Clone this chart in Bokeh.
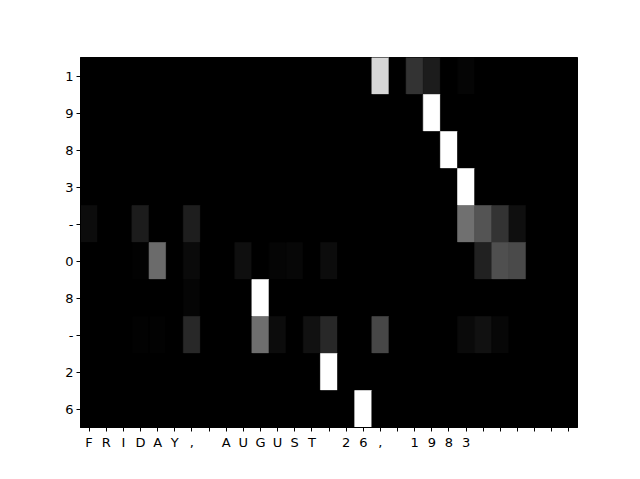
from bokeh.plotting import figure
from bokeh.models import Range1d, FixedTicker, ColumnDataSource, LinearColorMapper
from bokeh.transform import transform
from bokeh.embed import file_html
from bokeh.resources import INLINE

# Column (input) characters, padded
x_labels = ["F", "R", "I", "D", "A", "Y", ",", " ", "A", "U", "G", "U", "S", "T", " ",
            "2", "6", ",", " ", "1", "9", "8", "3", "", "", "", "", "", ""]
# Row (output) characters, top to bottom
y_labels = ["1", "9", "8", "3", "-", "0", "8", "-", "2", "6"]

# Attention weights per output row (29 input columns each)
row_1a = [0, 0, 0, 0, 0, 0, 0, 0, 0, 0, 0, 0, 0, 0, 0, 0, 0, 0.84, 0, 0.20, 0.11, 0, 0.02, 0, 0, 0, 0, 0, 0]
row_9 = [0, 0, 0, 0, 0, 0, 0, 0, 0, 0, 0, 0, 0, 0, 0, 0, 0, 0, 0, 0, 1.0, 0, 0, 0, 0, 0, 0, 0, 0]
row_8a = [0, 0, 0, 0, 0, 0, 0, 0, 0, 0, 0, 0, 0, 0, 0, 0, 0, 0, 0, 0, 0, 1.0, 0, 0, 0, 0, 0, 0, 0]
row_3 = [0, 0, 0, 0, 0, 0, 0, 0, 0, 0, 0, 0, 0, 0, 0, 0, 0, 0, 0, 0, 0, 0, 1.0, 0, 0, 0, 0, 0, 0]
row_dash_a = [0.05, 0, 0, 0.11, 0, 0, 0.12, 0, 0, 0, 0, 0, 0, 0, 0, 0, 0, 0, 0, 0, 0, 0, 0.44, 0.33, 0.20, 0.06, 0, 0, 0]
row_0 = [0, 0, 0, 0.01, 0.42, 0, 0.04, 0, 0, 0.06, 0, 0.02, 0.03, 0, 0.05, 0, 0, 0, 0, 0, 0, 0, 0, 0.13, 0.31, 0.29, 0, 0, 0]
row_8b = [0, 0, 0, 0, 0, 0, 0.02, 0, 0, 0, 1.0, 0, 0, 0, 0, 0, 0, 0, 0, 0, 0, 0, 0, 0, 0, 0, 0, 0, 0]
row_dash_b = [0, 0, 0, 0.01, 0.01, 0, 0.16, 0, 0, 0, 0.43, 0.05, 0, 0.07, 0.16, 0, 0, 0.28, 0, 0, 0, 0, 0.04, 0.07, 0.03, 0, 0, 0, 0]
row_2 = [0, 0, 0, 0, 0, 0, 0, 0, 0, 0, 0, 0, 0, 0, 1.0, 0, 0, 0, 0, 0, 0, 0, 0, 0, 0, 0, 0, 0, 0]
row_6 = [0, 0, 0, 0, 0, 0, 0, 0, 0, 0, 0, 0, 0, 0, 0, 0, 1.0, 0, 0, 0, 0, 0, 0, 0, 0, 0, 0, 0, 0]

rows = [row_1a, row_9, row_8a, row_3, row_dash_a, row_0, row_8b, row_dash_b, row_2, row_6]

xs, ys, vs = [], [], []
for r, vals in enumerate(rows):
    for c, v in enumerate(vals):
        xs.append(c + 0.5)
        ys.append(r + 0.5)
        vs.append(v)
src = ColumnDataSource(dict(x=xs, y=ys, v=vs))

gray = ["#%02x%02x%02x" % (i, i, i) for i in range(256)]
mapper = LinearColorMapper(palette=gray, low=0, high=1)

ncols = len(x_labels)
nrows = len(y_labels)

p = figure(width=624, height=463, output_backend="svg", toolbar_location=None,
           x_range=Range1d(0, ncols), y_range=Range1d(nrows, 0),
           min_border_left=80, min_border_right=47, min_border_top=57, min_border_bottom=36)
p.background_fill_color = "black"
p.border_fill_color = "white"
p.outline_line_color = "black"
p.grid.visible = False

p.rect(x="x", y="y", width=1, height=1, source=src,
       fill_color=transform("v", mapper), line_color=transform("v", mapper), line_width=0.6)

p.xaxis.ticker = FixedTicker(ticks=[i + 0.5 for i in range(ncols)])
p.xaxis.major_label_overrides = {i + 0.5: lab for i, lab in enumerate(x_labels)}
p.yaxis.ticker = FixedTicker(ticks=[i + 0.5 for i in range(nrows)])
p.yaxis.major_label_overrides = {i + 0.5: lab for i, lab in enumerate(y_labels)}

for ax in (p.xaxis[0], p.yaxis[0]):
    ax.axis_line_color = "black"
    ax.major_tick_line_color = "black"
    ax.major_tick_out = 4
    ax.major_tick_in = 0
    ax.minor_tick_line_color = None
    ax.major_label_text_font = "DejaVu Sans"
    ax.major_label_text_font_size = "13px"
    ax.major_label_text_color = "black"
    ax.major_label_standoff = 3

open("out.html", "w").write(file_html(p, INLINE))
